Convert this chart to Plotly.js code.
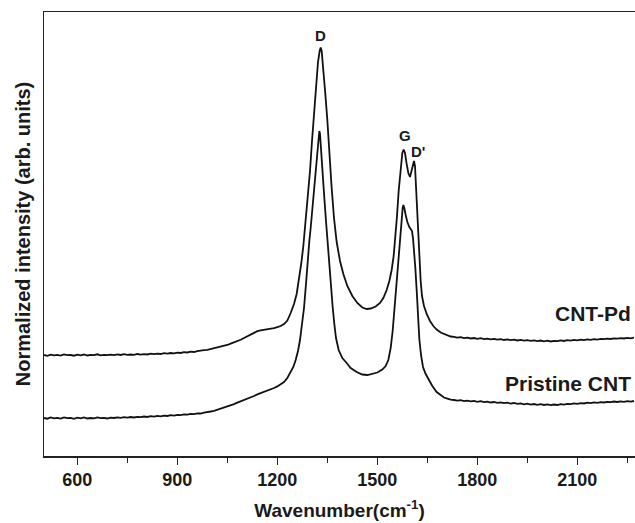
<!DOCTYPE html>
<html>
<head>
<meta charset="utf-8">
<script src="https://cdn.plot.ly/plotly-3.0.1.min.js"></script>
<style>html,body{margin:0;padding:0;background:#fff;}#chart{width:635px;height:523px;}</style>
</head>
<body>
<div id="chart"></div>
<script>
// CNT-Pd spectrum (wavenumber, normalized intensity, arb. units)
var xPd = [500,510,520,530,540,550,560,570,580,590,600,610,620,630,640,650,660,670,680,690,700,710,720,730,740,750,760,770,780,790,800,810,820,830,840,850,860,870,880,890,900,910,920,930,940,950,960,970,980,990,1000,1010,1020,1030,1040,1050,1060,1070,1080,1090,1100,1110,1120,1130,1140,1150,1160,1170,1180,1190,1200,1210,1220,1230,1240,1250,1258,1265,1272,1278,1285,1292,1298,1304,1310,1316,1322,1327,1330,1333,1338,1344,1350,1356,1363,1370,1378,1388,1398,1410,1425,1440,1455,1468,1480,1495,1508,1518,1528,1536,1543,1549,1554,1559,1564,1570,1575,1579,1583,1588,1593,1598,1603,1607,1610,1613,1617,1621,1626,1630,1634,1640,1648,1658,1668,1678,1690,1700,1710,1720,1730,1740,1750,1760,1770,1780,1790,1800,1810,1820,1830,1840,1850,1860,1870,1880,1890,1900,1910,1920,1930,1940,1950,1960,1970,1980,1990,2000,2010,2020,2030,2040,2050,2060,2070,2080,2090,2100,2110,2120,2130,2140,2150,2160,2170,2180,2190,2200,2210,2220,2230,2240,2250,2260,2270];
var yPd = [101.0,100.2,101.4,100.6,101.2,100.4,101.6,100.8,101.0,100.3,101.3,100.7,101.5,100.5,101.1,100.9,101.7,100.6,101.2,100.8,101.4,100.9,101.6,101.0,101.8,101.2,101.5,101.1,102.0,101.4,101.9,101.5,102.3,101.8,102.4,102.0,102.9,102.3,103.0,102.6,103.3,103.0,103.8,103.5,104.3,104.0,104.9,105.0,105.8,106.2,107.0,107.4,108.6,109.0,110.3,111.0,112.4,113.5,115.0,116.2,118.0,119.8,121.5,123.4,124.8,125.6,126.0,126.8,127.0,127.9,128.8,130.0,132.0,135.5,143,152,162,176,193,210,235,262,285,315,345,372,394,405,408.5,405,388,362,336,300,268,238,214,195,182,170,160,153,148.5,147,147.5,149.5,153,158,166,175,186,200,218,240,265,290,303,306.5,303,292,283,279,285,292,295,290,262,232,199,175,160,150,142,135,130,126.5,123.5,122,120.6,119.5,119.2,118.4,118.9,117.8,118.3,117.5,118.0,117.2,117.8,116.9,117.4,116.6,117.1,116.3,116.9,116.0,116.6,115.8,116.3,115.5,116.1,115.3,115.9,115.1,115.7,114.9,115.5,114.7,115.3,114.5,115.2,114.8,115.6,115.0,115.8,115.3,116.1,115.6,116.4,115.9,116.6,116.2,116.9,116.4,117.2,116.8,117.4,117.0,117.7,117.3,117.9,117.5,118.2,117.7,118.3];

// Pristine CNT spectrum
var xPr = [500,510,520,530,540,550,560,570,580,590,600,610,620,630,640,650,660,670,680,690,700,710,720,730,740,750,760,770,780,790,800,810,820,830,840,850,860,870,880,890,900,910,920,930,940,950,960,970,980,990,1000,1010,1020,1030,1040,1050,1060,1070,1080,1090,1100,1110,1120,1130,1140,1150,1160,1170,1180,1190,1200,1210,1220,1230,1240,1248,1255,1262,1268,1274,1280,1286,1291,1296,1300,1305,1310,1316,1321,1324,1326,1328,1332,1336,1341,1346,1350,1356,1361,1366,1371,1376,1384,1395,1408,1420,1438,1455,1470,1485,1500,1515,1525,1533,1540,1546,1553,1559,1566,1572,1576,1578,1581,1585,1590,1596,1601,1604,1607,1610,1614,1618,1622,1626,1631,1637,1645,1653,1665,1678,1690,1700,1710,1720,1730,1740,1750,1760,1770,1780,1790,1800,1810,1820,1830,1840,1850,1860,1870,1880,1890,1900,1910,1920,1930,1940,1950,1960,1970,1980,1990,2000,2010,2020,2030,2040,2050,2060,2070,2080,2090,2100,2110,2120,2130,2140,2150,2160,2170,2180,2190,2200,2210,2220,2230,2240,2250,2260,2270];
var yPr = [38.0,37.3,38.5,37.6,38.2,37.4,38.6,37.8,38.1,37.2,38.3,37.6,38.5,37.5,38.0,37.7,38.6,37.9,38.2,37.5,38.4,38.0,38.7,38.1,38.9,38.3,39.0,38.5,39.2,38.8,39.5,39.0,39.8,39.3,40.1,39.6,40.4,40.0,40.8,40.4,41.2,40.9,41.6,41.3,42.1,41.8,42.6,42.5,43.4,43.6,44.5,45.2,46.3,47.0,48.4,49.3,50.8,51.9,53.4,54.6,56.2,57.5,58.9,60.0,61.6,62.8,64.2,65.1,66.8,68.0,69.6,71.4,74.0,78.0,83.5,89,96,105,116,130,148,172,196,215,228,246,265,285,305,318,325,322,305,283,258,235,216,190,168,149,132,118,106,98,93,88,84,81.5,81,82,83.5,86.5,90,96,108,125,153,180,214,236,248,251,248,241,234,229,227,225,218,207,188,166,140,117,101,89,82,77,70,64,60.5,58.5,57.4,56.3,56.0,55.3,55.8,54.9,55.4,54.6,55.1,54.2,54.8,53.9,54.4,53.5,54.0,53.1,53.7,52.8,53.3,52.4,53.0,52.1,52.6,51.7,52.3,51.4,52.0,51.2,51.8,51.0,51.6,50.8,51.5,51.0,51.9,51.4,52.2,51.8,52.6,52.1,52.9,52.5,53.3,52.8,53.6,53.2,53.9,53.5,54.2,53.8,54.5,54.0,54.7,54.2,54.9,54.4,55.0];

var seriesNames = ["CNT-Pd", "Pristine CNT"];
var peakLabels = ["D", "G", "D'"];
var peakX = [1330, 1583, 1623];
var peakY = [421, 321, 305];
var tickVals = [600, 900, 1200, 1500, 1800, 2100];
var minorVals = [750, 1050, 1350, 1650, 1950, 2250];

var FONT = "Liberation Sans, Arial, Helvetica, sans-serif";
var lineStyle = {color: "#111", width: 1.8};

var traces = [
  {x: xPd, y: yPd, type: "scatter", mode: "lines", name: seriesNames[0], line: lineStyle, hoverinfo: "skip"},
  {x: xPr, y: yPr, type: "scatter", mode: "lines", name: seriesNames[1], line: lineStyle, hoverinfo: "skip"}
];

var annotations = [];
for (var i = 0; i < peakLabels.length; i++) {
  annotations.push({x: peakX[i], y: peakY[i], xref: "x", yref: "y", text: peakLabels[i], showarrow: false,
    font: {family: FONT, size: 15, color: "#1a1a1a", weight: 700}});
}
annotations.push({x: 2267, y: 143, xref: "x", yref: "y", xanchor: "right", text: seriesNames[0], showarrow: false,
  font: {family: FONT, size: 21, color: "#1a1a1a", weight: 700}});
annotations.push({x: 2267, y: 73, xref: "x", yref: "y", xanchor: "right", text: seriesNames[1], showarrow: false,
  font: {family: FONT, size: 21, color: "#1a1a1a", weight: 700}});

var layout = {
  width: 635, height: 523,
  margin: {l: 44, r: 0, t: 12, b: 67},
  paper_bgcolor: "#fff", plot_bgcolor: "#fff",
  showlegend: false,
  font: {family: FONT, color: "#1a1a1a"},
  xaxis: {
    range: [500, 2273], showgrid: false, zeroline: false,
    showline: true, linecolor: "#222", linewidth: 1.5, mirror: true,
    ticks: "outside", ticklen: 7, tickwidth: 1.5, tickcolor: "#222",
    tickmode: "array", tickvals: tickVals,
    minor: {tickmode: "array", tickvals: minorVals, ticks: "outside", ticklen: 5, tickwidth: 1.5, tickcolor: "#222"},
    tickfont: {family: FONT, size: 18, color: "#1a1a1a", weight: 700},
    title: {text: "Wavenumber(cm<sup>-1</sup>)", font: {family: FONT, size: 19, color: "#1a1a1a", weight: 700}, standoff: 14}
  },
  yaxis: {
    range: [0, 444], showgrid: false, zeroline: false,
    showline: true, linecolor: "#222", linewidth: 1.5,
    ticks: "", showticklabels: false,
    title: {text: "Normalized intensity (arb. units)", font: {family: FONT, size: 20, color: "#1a1a1a", weight: 700}, standoff: 6}
  },
  annotations: annotations
};

Plotly.newPlot("chart", traces, layout, {displayModeBar: false, staticPlot: true});
</script>
</body>
</html>
